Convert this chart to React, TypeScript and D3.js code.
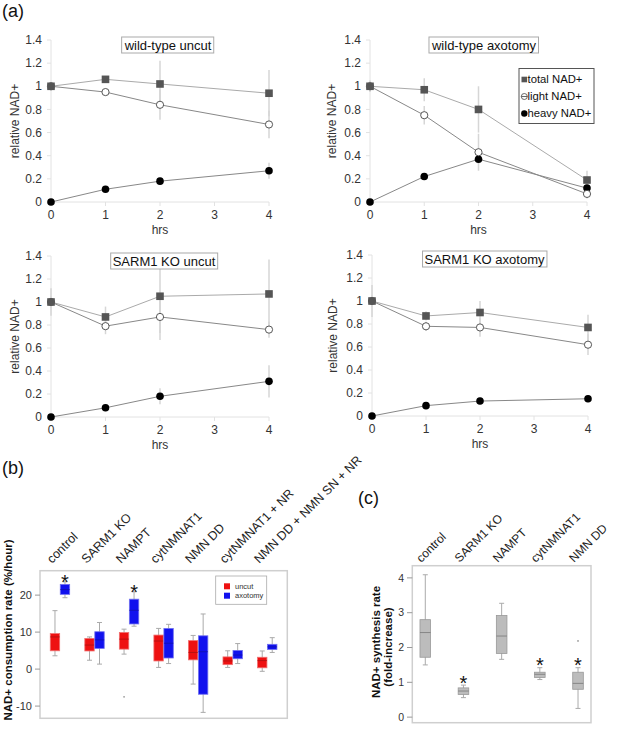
import React, { useRef, useEffect } from "react";
import * as d3 from "d3";

// ---- panel (a) data ----
const hrs = [0, 1, 2, 4];
const hrTicks = [0, 1, 2, 3, 4];
const nadTicks = [0, 0.2, 0.4, 0.6, 0.8, 1, 1.2, 1.4];
const panelTitles = ["wild-type uncut", "wild-type axotomy", "SARM1 KO uncut", "SARM1 KO axotomy"];
const totalNAD = [
  [1, 1.06, 1.02, 0.94],
  [1, 0.97, 0.8, 0.19],
  [1, 0.87, 1.05, 1.07],
  [1, 0.87, 0.9, 0.77],
];
const totalErr = [
  [0.03, 0.02, 0.2, 0.2],
  [0.05, 0.1, 0.2, 0.08],
  [0.12, 0.09, 0.32, 0.3],
  [0.14, 0.04, 0.1, 0.11],
];
const lightNAD = [
  [1, 0.95, 0.84, 0.67],
  [1, 0.75, 0.43, 0.07],
  [1, 0.79, 0.87, 0.76],
  [1, 0.78, 0.77, 0.62],
];
const lightErr = [
  [0.02, 0.03, 0.13, 0.12],
  [0.03, 0.08, 0.16, 0.04],
  [0.05, 0.07, 0.2, 0.07],
  [0.05, 0.04, 0.08, 0.09],
];
const heavyNAD = [
  [0, 0.11, 0.18, 0.27],
  [0, 0.22, 0.37, 0.12],
  [0, 0.08, 0.18, 0.31],
  [0, 0.09, 0.13, 0.15],
];
const heavyErr = [
  [0, 0.02, 0.03, 0.07],
  [0, 0.03, 0.04, 0.03],
  [0, 0.03, 0.07, 0.14],
  [0, 0.02, 0.03, 0.03],
];
const seriesNames = ["total NAD+", "light NAD+", "heavy NAD+"];

// ---- panel (b) data: [low, q1, median, q3, high] ----
const consumptionGroups = ["control", "SARM1 KO", "NAMPT", "cytNMNAT1", "NMN DD", "cytNMNAT1 + NR", "NMN DD + NMN SN + NR"];
const conditions = ["uncut", "axotomy"];
const uncutStats = [
  [3.6, 4.95, 8.7, 9.6, 15.8],
  [2.4, 4.9, 6.5, 8.3, 8.7],
  [4.05, 5.4, 8.1, 9.9, 10.8],
  [0.45, 2.2, 7.6, 9.2, 11],
  [-4.05, 2.5, 4.5, 7.7, 9.1],
  [0.45, 1.2, 2.2, 3.3, 4.95],
  [-0.6, 0.35, 2.3, 3.2, 4.9],
];
const axotomyStats = [
  [19.3, 20.2, 21.5, 22.9, 23.6],
  [1.35, 5.6, 7.9, 10.1, 12.6],
  [11.6, 12.2, 15.9, 18.9, 20.9],
  [1.5, 3.0, 7.0, 11.0, 12.1],
  [-11.7, -6.8, 4.7, 9.0, 14.9],
  [1.5, 2.8, 3.8, 5.05, 6.9],
  [4.5, 5.3, 6.0, 6.7, 8.5],
];
const uncutOutliers = [[], [], [-7.5], [], [], [], []];
const axotomySig = [true, false, true, false, false, false, false];
const consumptionTicks = [-10, 0, 10, 20];

// ---- panel (c) data ----
const synthesisGroups = ["control", "SARM1 KO", "NAMPT", "cytNMNAT1", "NMN DD"];
const synthesisStats = [
  [1.5, 1.72, 2.43, 2.8, 4.09],
  [0.56, 0.65, 0.75, 0.84, 0.92],
  [1.66, 1.83, 2.33, 2.92, 3.27],
  [1.08, 1.14, 1.23, 1.29, 1.42],
  [0.25, 0.8, 0.97, 1.29, 1.42],
];
const synthesisOutliers = [[], [], [], [], [2.19]];
const synthesisSig = [false, true, false, true, true];
const synthesisTicks = [0, 1, 2, 3, 4];

const FONT = "Liberation Sans, Arial, sans-serif";

const aFrames = [
  { x0: 51, x1: 269, yTop: 40, yBot: 202, titleX: 168, titleY: 45, ylabX: 15 },
  { x0: 370, x1: 587, yTop: 40, yBot: 202, titleX: 484, titleY: 45, ylabX: 332 },
  { x0: 51, x1: 269, yTop: 256, yBot: 417, titleX: 164, titleY: 261, ylabX: 15 },
  { x0: 372, x1: 588, yTop: 255, yBot: 416, titleX: 484.5, titleY: 259, ylabX: 332.5 },
];

const App = () => {
  const svgRef = useRef<SVGSVGElement>(null);

  useEffect(() => {
    const svg = d3.select(svgRef.current);
    svg.selectAll("*").remove();
    svg.style("font-family", FONT);

    // panel letters
    svg.append("text").attr("x", 2).attr("y", 17).attr("font-size", 18).attr("fill", "#111").text("(a)");
    svg.append("text").attr("x", 2).attr("y", 474).attr("font-size", 18).attr("fill", "#111").text("(b)");
    svg.append("text").attr("x", 358).attr("y", 504).attr("font-size", 18).attr("fill", "#111").text("(c)");

    // ---------- panel (a) ----------
    aFrames.forEach((f, i) => {
      const g = svg.append("g");
      const x = d3.scaleLinear().domain([0, 4]).range([f.x0, f.x1]);
      const y = d3.scaleLinear().domain([0, 1.4]).range([f.yBot, f.yTop]);

      // axes
      g.append("line").attr("x1", x(0)).attr("x2", x(0)).attr("y1", y(0)).attr("y2", y(1.4))
        .attr("stroke", "#e2e2e2");
      g.append("line").attr("x1", x(0)).attr("x2", x(4)).attr("y1", y(0)).attr("y2", y(0))
        .attr("stroke", "#e2e2e2");
      nadTicks.forEach((t) => {
        g.append("line").attr("x1", x(0) - 4).attr("x2", x(0)).attr("y1", y(t)).attr("y2", y(t))
          .attr("stroke", "#e2e2e2");
        g.append("text").attr("x", x(0) - 9).attr("y", y(t)).attr("dy", "0.35em")
          .attr("text-anchor", "end").attr("font-size", 12).attr("fill", "#333")
          .text(String(+t.toFixed(1)));
      });
      hrTicks.forEach((t) => {
        g.append("line").attr("x1", x(t)).attr("x2", x(t)).attr("y1", y(0)).attr("y2", y(0) + 4)
          .attr("stroke", "#e2e2e2");
        g.append("text").attr("x", x(t)).attr("y", y(0) + 17).attr("text-anchor", "middle")
          .attr("font-size", 12).attr("fill", "#333").text(t);
      });
      g.append("text").attr("x", (f.x0 + f.x1) / 2).attr("y", f.yBot + 32).attr("text-anchor", "middle")
        .attr("font-size", 12).attr("fill", "#333").text("hrs");
      g.append("text")
        .attr("transform", `translate(${f.ylabX},${(f.yTop + f.yBot) / 2}) rotate(-90)`)
        .attr("text-anchor", "middle").attr("dy", "0.35em").attr("font-size", 12).attr("fill", "#333")
        .text("relative NAD+");

      // error bars
      const errs = [
        { v: totalNAD[i], e: totalErr[i] },
        { v: lightNAD[i], e: lightErr[i] },
        { v: heavyNAD[i], e: heavyErr[i] },
      ];
      errs.forEach((s) => {
        hrs.forEach((h, k) => {
          if (s.e[k] <= 0) return;
          g.append("line").attr("x1", x(h)).attr("x2", x(h))
            .attr("y1", y(s.v[k] - s.e[k])).attr("y2", y(s.v[k] + s.e[k]))
            .attr("stroke", "#d6d6d6").attr("stroke-width", 1.5);
        });
      });

      const line = d3.line<number>().x((d, k) => x(hrs[k])).y((d) => y(d));
      g.append("path").attr("d", line(totalNAD[i])).attr("fill", "none").attr("stroke", "#aaa").attr("stroke-width", 1);
      g.append("path").attr("d", line(lightNAD[i])).attr("fill", "none").attr("stroke", "#888").attr("stroke-width", 1);
      g.append("path").attr("d", line(heavyNAD[i])).attr("fill", "none").attr("stroke", "#888").attr("stroke-width", 1);

      heavyNAD[i].forEach((v, k) => {
        g.append("circle").attr("cx", x(hrs[k])).attr("cy", y(v)).attr("r", 3.8).attr("fill", "#000");
      });
      lightNAD[i].forEach((v, k) => {
        g.append("circle").attr("cx", x(hrs[k])).attr("cy", y(v)).attr("r", 3.6)
          .attr("fill", "#fff").attr("stroke", "#444").attr("stroke-width", 0.9);
      });
      totalNAD[i].forEach((v, k) => {
        g.append("rect").attr("x", x(hrs[k]) - 3.8).attr("y", y(v) - 3.8).attr("width", 7.6).attr("height", 7.6)
          .attr("fill", "#555");
      });

      // title box
      const title = g.append("text").attr("x", f.titleX).attr("y", f.titleY).attr("dy", "0.35em")
        .attr("text-anchor", "middle").attr("font-size", 13).attr("fill", "#111").text(panelTitles[i]);
      const bb = (title.node() as SVGTextElement).getBBox();
      g.append("rect")
        .attr("x", bb.x - 2).attr("y", f.titleY - 8).attr("width", bb.width + 4).attr("height", 16)
        .attr("fill", "#fff").attr("stroke", "#aaa");
      title.raise();
    });

    // legend for (a)
    const lg = svg.append("g");
    lg.append("rect").attr("x", 519).attr("y", 68.5).attr("width", 75).attr("height", 55)
      .attr("fill", "#fff").attr("stroke", "#555");
    seriesNames.forEach((name, k) => {
      const cy = 79.5 + k * 17;
      if (k === 0) {
        lg.append("rect").attr("x", 521.5).attr("y", cy - 2.8).attr("width", 5.6).attr("height", 5.6).attr("fill", "#555");
      } else if (k === 1) {
        lg.append("circle").attr("cx", 524.3).attr("cy", cy).attr("r", 3).attr("fill", "#fff").attr("stroke", "#444").attr("stroke-width", 0.8);
        lg.append("line").attr("x1", 521.3).attr("x2", 527.3).attr("y1", cy).attr("y2", cy).attr("stroke", "#444").attr("stroke-width", 0.8);
      } else {
        lg.append("circle").attr("cx", 524.3).attr("cy", cy).attr("r", 3.2).attr("fill", "#000");
      }
      lg.append("text").attr("x", 527.5).attr("y", cy).attr("dy", "0.35em").attr("font-size", 11.3)
        .attr("fill", "#111").text(name);
    });

    // ---------- panel (b) ----------
    const bx = d3.scaleBand().domain(consumptionGroups).range([42.7, 284.5]);
    const bsub = d3.scaleBand().domain(conditions).range([0, 19.4]).paddingInner(0.06);
    const by = d3.scaleLinear().domain([-13.3, 26.6]).range([718.3, 570.7]);
    const gb = svg.append("g");
    gb.append("rect").attr("x", 40).attr("y", 570.7).attr("width", 247.3).attr("height", 147.6)
      .attr("fill", "#fff").attr("stroke", "#cfcfcf").attr("stroke-width", 1.5);
    consumptionTicks.forEach((t) => {
      gb.append("line").attr("x1", 35).attr("x2", 40).attr("y1", by(t)).attr("y2", by(t)).attr("stroke", "#999");
      gb.append("text").attr("x", 32).attr("y", by(t)).attr("dy", "0.35em").attr("text-anchor", "end")
        .attr("font-size", 11).attr("fill", "#333").text(t);
    });
    gb.append("text").attr("transform", `translate(12,630) rotate(-90)`).attr("text-anchor", "middle")
      .attr("font-size", 11.5).attr("font-weight", "bold").attr("fill", "#111")
      .text("NAD+ consumption rate (%/hour)");

    const colors = { uncut: "#ee1111", axotomy: "#1111ee" };
    const strokes = { uncut: "#f07070", axotomy: "#7070f0" };
    const medians = { uncut: "#aa1111", axotomy: "#1111aa" };

    const drawBox = (g, cx, w, s, fill, stroke, med, yS) => {
      const [lo, q1, md, q3, hi] = s;
      g.append("line").attr("x1", cx).attr("x2", cx).attr("y1", yS(hi)).attr("y2", yS(lo)).attr("stroke", "#aaa");
      g.append("line").attr("x1", cx - 2.5).attr("x2", cx + 2.5).attr("y1", yS(hi)).attr("y2", yS(hi)).attr("stroke", "#aaa");
      g.append("line").attr("x1", cx - 2.5).attr("x2", cx + 2.5).attr("y1", yS(lo)).attr("y2", yS(lo)).attr("stroke", "#aaa");
      g.append("rect").attr("x", cx - w / 2).attr("y", yS(q3)).attr("width", w).attr("height", yS(q1) - yS(q3))
        .attr("fill", fill).attr("stroke", stroke).attr("stroke-width", 0.8);
      g.append("line").attr("x1", cx - w / 2).attr("x2", cx + w / 2).attr("y1", yS(md)).attr("y2", yS(md))
        .attr("stroke", med).attr("stroke-width", 0.8);
    };

    consumptionGroups.forEach((grp, i) => {
      const c = (bx(grp) as number) + bx.bandwidth() / 2 - 9.7;
      [uncutStats[i], axotomyStats[i]].forEach((s, k) => {
        const cond = conditions[k];
        const cx = c + (bsub(cond) as number) + bsub.bandwidth() / 2;
        drawBox(gb, cx, bsub.bandwidth(), s, colors[cond], strokes[cond], medians[cond], by);
        if (k === 0) {
          uncutOutliers[i].forEach((o) => {
            gb.append("circle").attr("cx", cx).attr("cy", by(o)).attr("r", 0.9).attr("fill", "#999");
          });
        }
        if (k === 1 && axotomySig[i]) {
          gb.append("text").attr("x", cx).attr("y", by(s[4]) + 7.5).attr("text-anchor", "middle")
            .attr("font-size", 20).attr("fill", "#111").text("*");
        }
      });
      gb.append("text")
        .attr("transform", `translate(${(bx(grp) as number) + bx.bandwidth() / 2 - 8},564) rotate(-45)`)
        .attr("font-size", 12.5).attr("fill", "#222").text(grp);
    });

    // legend (b)
    gb.append("rect").attr("x", 215.7).attr("y", 576).attr("width", 51).attr("height", 28.3)
      .attr("fill", "#fff").attr("stroke", "#aaa").attr("stroke-width", 0.8);
    conditions.forEach((cond, k) => {
      const cy = 586.3 + k * 9.4;
      gb.append("rect").attr("x", 224).attr("y", cy - 3).attr("width", 6).attr("height", 6).attr("fill", colors[cond]);
      gb.append("text").attr("x", 235).attr("y", cy).attr("dy", "0.35em").attr("font-size", 7.5)
        .attr("fill", "#333").text(cond);
    });

    // ---------- panel (c) ----------
    const cx = d3.scalePoint().domain(synthesisGroups).range([412.3, 591]).padding(0.34);
    const cy = d3.scaleLinear().domain([-0.16, 4.35]).range([722.7, 565.7]);
    const gc = svg.append("g");
    gc.append("rect").attr("x", 412.3).attr("y", 565.7).attr("width", 178.7).attr("height", 157)
      .attr("fill", "#fff").attr("stroke", "#cfcfcf").attr("stroke-width", 1.5);
    synthesisTicks.forEach((t) => {
      gc.append("line").attr("x1", 407).attr("x2", 412.3).attr("y1", cy(t)).attr("y2", cy(t)).attr("stroke", "#999");
      gc.append("text").attr("x", 404).attr("y", cy(t)).attr("dy", "0.35em").attr("text-anchor", "end")
        .attr("font-size", 10.5).attr("fill", "#333").text(t);
    });
    gc.append("text").attr("transform", `translate(380,642) rotate(-90)`).attr("text-anchor", "middle")
      .attr("font-size", 11.5).attr("font-weight", "bold").attr("fill", "#111").text("NAD+ synthesis rate");
    gc.append("text").attr("transform", `translate(392,647) rotate(-90)`).attr("text-anchor", "middle")
      .attr("font-size", 11.5).attr("font-weight", "bold").attr("fill", "#111").text("(fold-increase)");

    synthesisGroups.forEach((grp, i) => {
      const x0 = cx(grp) as number;
      drawBox(gc, x0, 10.6, synthesisStats[i], "#bcbcbc", "#999", "#777", cy);
      synthesisOutliers[i].forEach((o) => {
        gc.append("circle").attr("cx", x0).attr("cy", cy(o)).attr("r", 0.9).attr("fill", "#999");
      });
      if (synthesisSig[i]) {
        gc.append("text").attr("x", x0).attr("y", cy(synthesisStats[i][4]) + 4.5).attr("text-anchor", "middle")
          .attr("font-size", 20).attr("fill", "#111").text("*");
      }
      gc.append("text").attr("transform", `translate(${x0 - 4},563) rotate(-45)`)
        .attr("font-size", 12).attr("fill", "#222").text(grp);
    });
  }, []);

  return (
    <svg
      ref={svgRef}
      width={617}
      height={737}
      style={{ position: "absolute", left: 0, top: 0, background: "#fff" }}
    ></svg>
  );
};

export default App;
